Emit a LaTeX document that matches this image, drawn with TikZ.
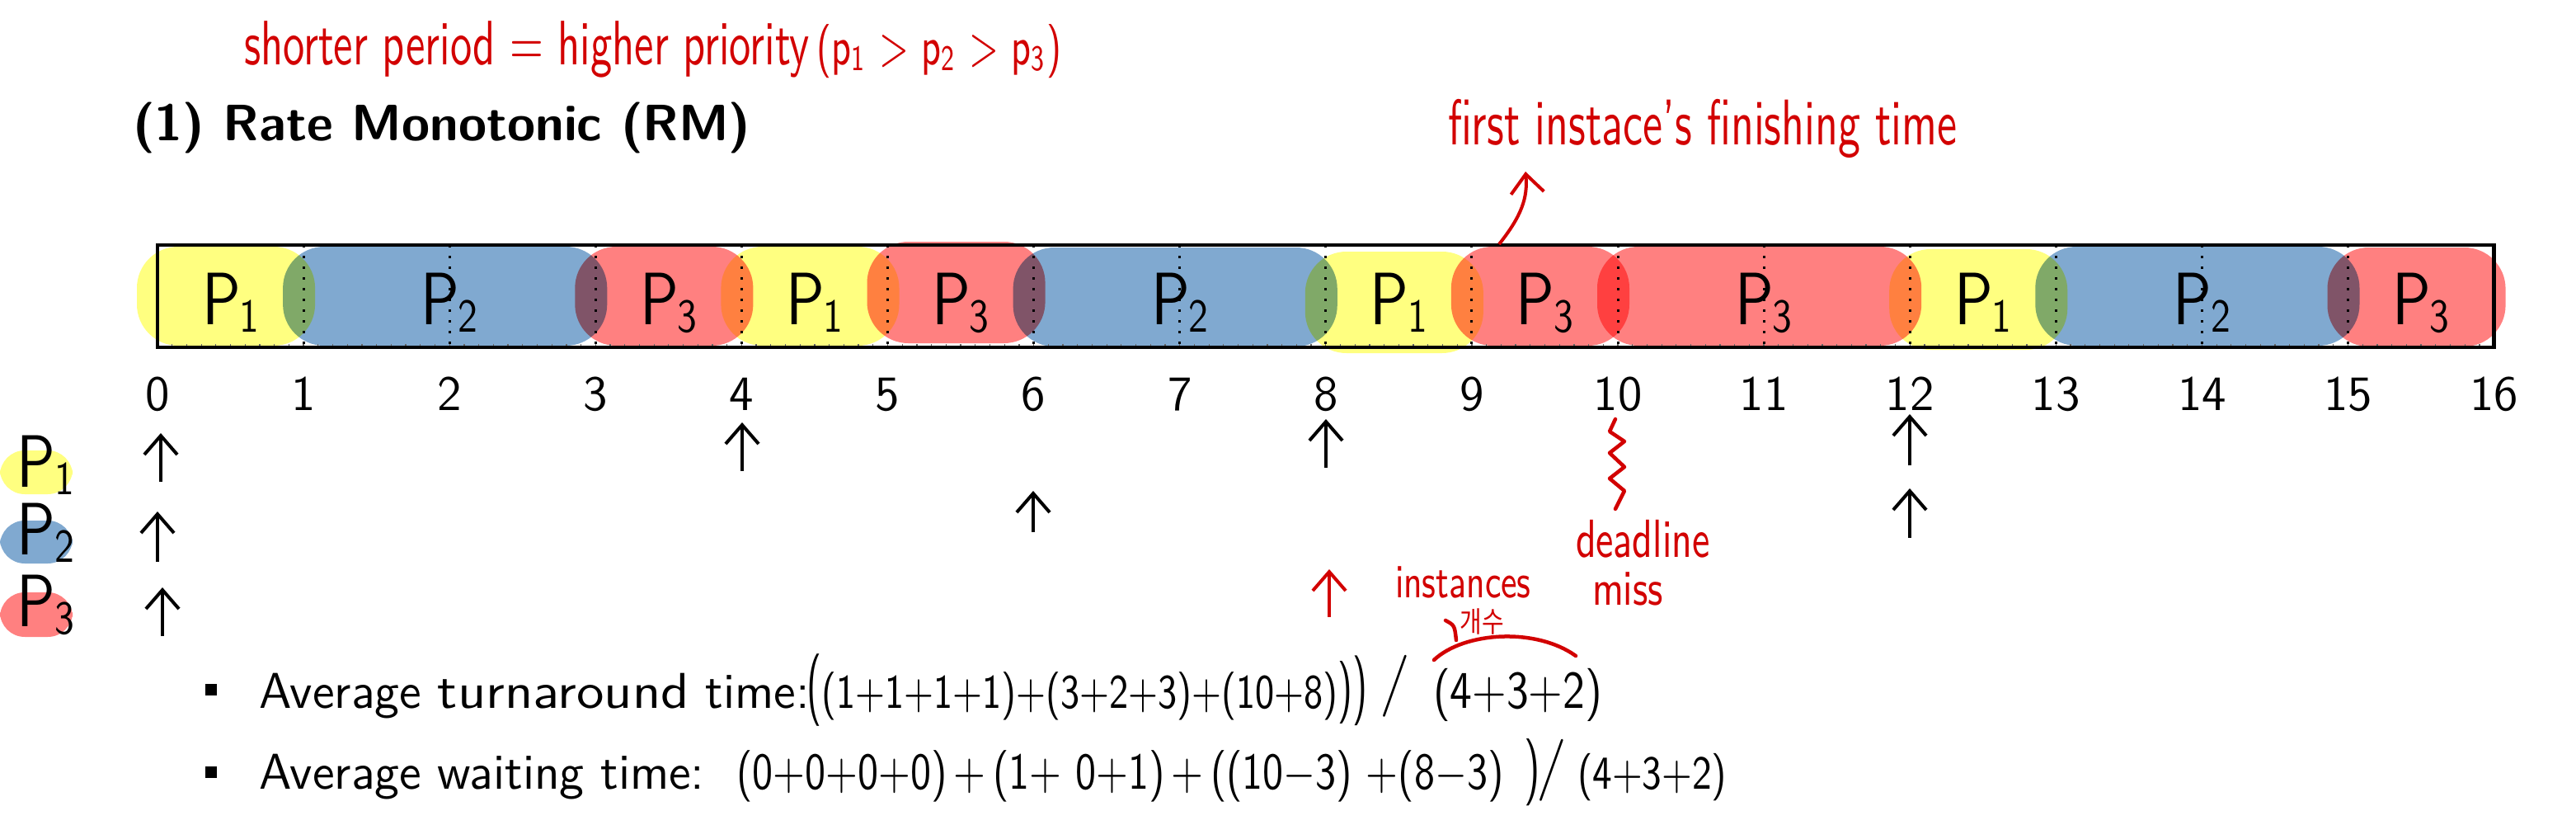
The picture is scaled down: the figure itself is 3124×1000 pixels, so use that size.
\documentclass[tikz,border=0pt]{standalone}
\usepackage{fontspec}
\usepackage{graphicx}
\newfontfamily\kofont{Noto Sans CJK KR}
\usetikzlibrary{arrows.meta}
\definecolor{pyel}{RGB}{255,255,128}
\definecolor{pblu}{RGB}{128,169,208}
\definecolor{pred}{RGB}{255,128,128}
\definecolor{hand}{RGB}{210,0,0}
\newcommand{\myfs}[1]{\fontsize{#1}{#1}\selectfont}
\newcommand{\hw}[2][1.35]{\scalebox{1}[#1]{#2}}
\newcommand{\procP}[1]{\hw[1.2]{P\kern-0.02em\raisebox{-0.25ex}{\myfs{9.5}#1}}}
\begin{document}
\begin{tikzpicture}[x=0.2pt,y=-0.2pt,
  declare function={tx(\t)=191+177.1*\t;},
  arr/.style={-{Straight Barb[length=4.6pt,width=8pt]},line width=0.8pt},
  harr/.style={arr,draw=hand},
  blobstyle/.style={rounded corners=10pt},
  plabel/.style={font=\myfs{15}\sffamily,anchor=base,inner sep=0pt},
  num/.style={font=\myfs{12}\sffamily,anchor=base,inner sep=0pt},
  body/.style={font=\myfs{12.2}\sffamily,anchor=base west,inner sep=0pt},
  formula/.style={font=\sffamily,anchor=base west,inner sep=0pt},
  note/.style={font=\sffamily,text=hand,anchor=base west,inner sep=0pt},
  handline/.style={draw=hand,line width=0.9pt,line cap=round,line join=round}]
\path[use as bounding box] (0,0) rectangle (3124,1000);

% title
\node[font=\myfs{12.4}\sffamily\bfseries,anchor=base west,inner sep=0pt] (title) at (160,170) {(1) Rate Monotonic (RM)};

% red note on top
\node[note,font=\myfs{10.5}\sffamily] (prio) at (295,78) {\hw[1.45]{shorter period = higher priority\,{\myfs{9}(p\textsubscript{1} > p\textsubscript{2} > p\textsubscript{3})}}};

% schedule blobs
\begin{scope}[blend mode=multiply]
\foreach \c/\s/\e/\ta/\tb in {pyel/0/1/299/419, pblu/1/3/299/419, pred/3/4/299/419,
  pyel/4/5/299/419, pred/5/6/293/416, pblu/6/8/300/420, pyel/8/9/305/428,
  pred/9/10/299/419, pred/10/12/299/419, pyel/12/13/302/424, pblu/13/15/299/419,
  pred/15/16/300/420}
  \fill[\c,blobstyle] ({tx(\s)-25},\ta) rectangle ({tx(\e)+14},\tb);
\end{scope}

% dotted unit lines and minor ticks
\foreach \i in {1,...,15}
  \draw[dotted,line width=0.6pt] ({tx(\i)},297) -- ({tx(\i)},421);
\foreach \k in {1,...,159}
  \draw[line width=0.25pt,black!60] ({tx(\k/10)},421) -- ({tx(\k/10)},417);
\draw[line width=0.9pt] ({tx(0)},297) rectangle ({tx(16)},421);

% process labels inside blobs
\foreach \s/\e/\p [count=\j] in {0/1/1, 1/3/2, 3/4/3, 4/5/1, 5/6/3, 6/8/2, 8/9/1,
  9/10/3, 10/12/3, 12/13/1, 13/15/2, 15/16/3}
  \node[plabel] (blk\j) at ({(tx(\s)+tx(\e))/2},393) {\procP{\p}};

% time axis numbers
\foreach \i in {0,...,16}
  \node[num] (n\i) at ({tx(\i)},497) {\i};

% legend
\fill[pyel,rounded corners=6pt] (0,546) rectangle (88,599);
\fill[pblu,rounded corners=6pt] (0,631) rectangle (88,683);
\fill[pred,rounded corners=6pt] (0,718) rectangle (88,772);
\node[plabel,anchor=base west] (lg1) at (20,590) {\procP{1}};
\node[plabel,anchor=base west] (lg2) at (20,672) {\procP{2}};
\node[plabel,anchor=base west] (lg3) at (20,759) {\procP{3}};

% arrival arrows
\foreach \nm/\x/\ya/\yb in {a10/195/584/525, a14/900/571/512, a18/1608/567/508, a112/2316/564/502,
  a20/191/681/620, a26/1253/645/595, a212/2316/652/592, a30/197/771/712}{
  \coordinate (\nm s) at (\x,\ya);
  \coordinate (\nm e) at (\x,\yb);
  \draw[arr] (\nm s) -- (\nm e);
}
\coordinate (r8s) at (1612,748);
\coordinate (r8e) at (1612,690);
\draw[harr] (r8s) -- (r8e);

% first instance's finishing time
\node[note,font=\myfs{10.8}\sffamily] (finish) at (1755,175) {\hw[1.45]{first instace's finishing time}};
\coordinate (fa1) at (1818,296);
\coordinate (fa2) at (1850,208);
\draw[harr] (fa1) .. controls (1845,262) and (1853,240) .. (fa2);

% deadline miss squiggle
\draw[handline] (1959,508) -- (1952,523) -- (1970,535) -- (1952,549) -- (1970,566) -- (1952,580) -- (1970,595) -- (1959,617);
\node[note,font=\myfs{9.3}\sffamily] (dl) at (1910,675) {\hw[1.4]{deadline}};
\node[note,font=\myfs{9.3}\sffamily] (miss) at (1930,733) {\hw[1.3]{miss}};

% instances note
\node[note,font=\myfs{8.5}\sffamily] (inst) at (1691,724) {\hw[1.35]{instances}};
\node[text=hand,font=\myfs{5.8}\kofont,inner sep=0pt] (cnt) at (1797,753) {\hw[1.2]{개수}};
\draw[handline] (1753,752) .. controls (1764,758) .. (1766,776);
\coordinate (arcA) at (1739,800);
\coordinate (arcB) at (1911,795);
\draw[handline] (arcA) .. controls (1775,766) and (1862,760) .. (arcB);

% bullets and descriptions
\fill (249,829) rectangle (263,843);
\fill (249,929) rectangle (263,943);
\node[body] (tat) at (313,858) {Average \scalebox{1.12}[1]{turnaround} time:};
\node[body] (wt) at (313,956) {Average waiting time:};

% handwritten formulas
\node[formula,font=\myfs{9}\sffamily] (f1a) at (977,858) {\hw[1.3]{\scalebox{1}[1.5]{(}(1+1+1+1)+(3+2+3)+(10+8)\scalebox{1}[1.3]{)}\scalebox{1}[1.45]{)}}};
\node[formula,font=\myfs{15}\sffamily] (s1) at (1672,850) {/};
\node[formula,font=\myfs{10.7}\sffamily] (f1b) at (1737,858) {\hw[1.2]{(4+3+2)}};
\node[formula,font=\myfs{10}\sffamily] (f2a) at (892,956) {\hw[1.25]{(0+0+0+0)\,+\,(1+ 0+1)\,+\,((10$-$3) +(8$-$3)\, \scalebox{1}[1.3]{)}}};
\node[formula,font=\myfs{15}\sffamily] (s2) at (1862,952) {/};
\node[formula,font=\myfs{9.2}\sffamily] (f2b) at (1912,956) {\hw[1.25]{(4+3+2)}};
\end{tikzpicture}
\end{document}
